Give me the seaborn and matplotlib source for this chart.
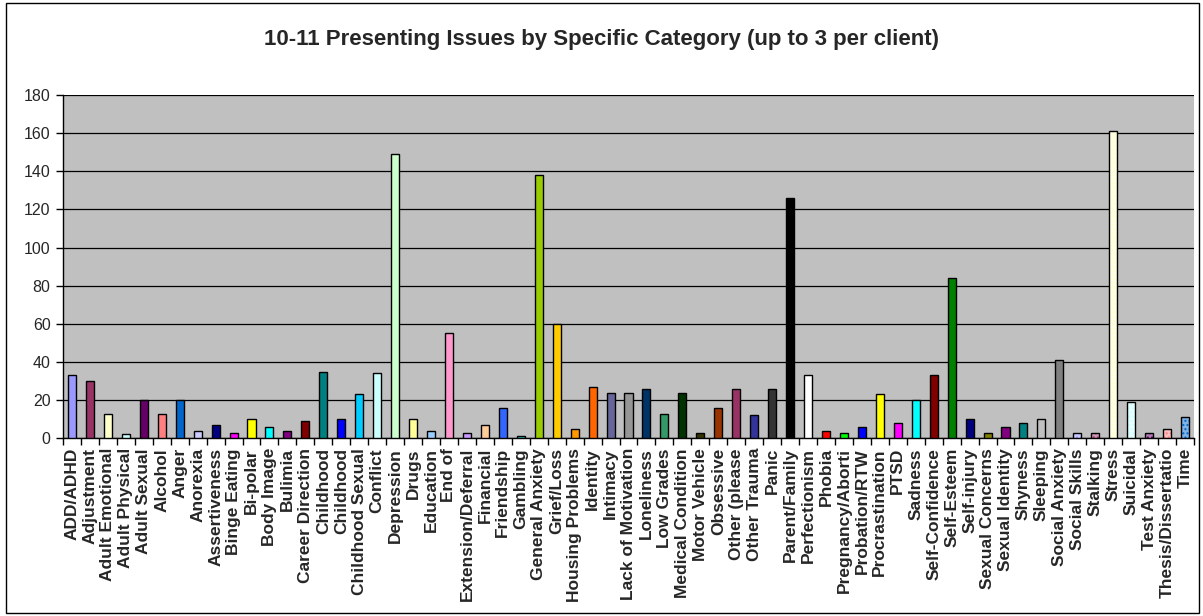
import matplotlib
matplotlib.use("Agg")
import matplotlib.pyplot as plt
from matplotlib.colors import to_rgba
from matplotlib.patches import Rectangle
import numpy as np
import pandas as pd
import seaborn as sns

title = "10-11 Presenting Issues by Specific Category (up to 3 per client)"

categories = [
    "ADD/ADHD", "Adjustment", "Adult Emotional", "Adult Physical", "Adult Sexual",
    "Alcohol", "Anger", "Anorexia", "Assertiveness", "Binge Eating", "Bi-polar",
    "Body Image", "Bulimia", "Career Direction", "Childhood", "Childhood",
    "Childhood Sexual", "Conflict", "Depression", "Drugs", "Education", "End of",
    "Extension/Deferral", "Financial", "Friendship", "Gambling", "General Anxiety",
    "Grief/Loss", "Housing Problems", "Identity", "Intimacy", "Lack of Motivation",
    "Loneliness", "Low Grades", "Medical Condition", "Motor Vehicle", "Obsessive",
    "Other (please", "Other Trauma", "Panic", "Parent/Family", "Perfectionism",
    "Phobia", "Pregnancy/Aborti", "Probation/RTW", "Procrastination", "PTSD",
    "Sadness", "Self-Confidence", "Self-Esteem", "Self-injury", "Sexual Concerns",
    "Sexual Identity", "Shyness", "Sleeping", "Social Anxiety", "Social Skills",
    "Stalking", "Stress", "Suicidal", "Test Anxiety", "Thesis/Dissertatio", "Time",
]

counts = [
    33, 30, 13, 2, 20, 13, 20, 4, 7, 3, 10,
    6, 4, 9, 35, 10, 23, 34, 149, 10, 4, 55,
    3, 7, 16, 1, 138, 60, 5, 27, 24, 24,
    26, 13, 24, 3, 16, 26, 12, 26, 126, 33,
    4, 3, 6, 23, 8, 20, 33, 84, 10, 3,
    6, 8, 10, 41, 3, 3, 161, 19, 3, 5, 11,
]

bar_colors = [
    "#9999FF", "#993366", "#FFFFCC", "#CCFFFF", "#660066", "#FF8080", "#0066CC", "#CCCCFF",
    "#000080", "#FF00FF", "#FFFF00", "#00FFFF", "#800080", "#800000", "#008080", "#0000FF",
    "#00CCFF", "#CCFFFF", "#CCFFCC", "#FFFF99", "#99CCFF", "#FF99CC", "#CC99FF", "#FFCC99",
    "#3366FF", "#33CCCC", "#99CC00", "#FFCC00", "#FF9900", "#FF6600", "#666699", "#969696",
    "#003366", "#339966", "#003300", "#333300", "#993300", "#993366", "#333399", "#333333",
    "#000000", "#FFFFFF", "#FF0000", "#00FF00", "#0000FF", "#FFFF00", "#FF00FF", "#00FFFF",
    "#800000", "#008000", "#000080", "#808000", "#800080", "#008080", "#C0C0C0", "#808080",
    "#9999FF", "#993366", "#FFFFCC", "#CCFFFF", "#660066", "#FF8080", "#0066CC",
]

# the last seven fills wrap round the palette and are drawn with a dotted pattern
dotted = [False] * 56 + [True] * 7

sns.set_theme(style="white")
plt.rcParams["font.family"] = ["Liberation Sans", "DejaVu Sans"]
plt.rcParams["hatch.linewidth"] = 1.0

keys = [f"{i:02d}|{name}" for i, name in enumerate(categories)]
df = pd.DataFrame({"key": keys, "count": counts})
palette = dict(zip(keys, bar_colors))

W, H = 1203, 616
fig = plt.figure(figsize=(W / 100, H / 100), dpi=100)
ax = fig.add_axes([63 / W, (H - 438.3) / H, (1194 - 63) / W, (438.3 - 95) / H])

sns.barplot(
    data=df, x="key", y="count", hue="key", palette=palette, order=keys,
    hue_order=keys, width=0.45, saturation=1, edgecolor="black", linewidth=1,
    legend=False, ax=ax, zorder=3,
)

for patch, base, pat in zip(ax.patches, bar_colors, dotted):
    if pat:
        r, g, b, _ = to_rgba(base)
        patch.set_facecolor((0.5 + r / 2, 0.5 + g / 2, 0.5 + b / 2))
        patch.set_hatch("....")
        patch._hatch_color = to_rgba(base)

ax.set_facecolor("#C0C0C0")
ax.set_xlim(-0.5, len(categories) - 0.5)
ax.set_ylim(0, 180)
ax.set_yticks(np.arange(0, 181, 20))
ax.yaxis.grid(True, color="black", linewidth=0.9)
ax.xaxis.grid(False)
ax.set_axisbelow(True)

ax.set_xticks(np.arange(len(categories)))
ax.set_xticklabels(categories, rotation=90, fontweight="bold", fontsize=12.5)
ax.set_xticks(np.arange(-0.5, len(categories), 1), minor=True)
ax.tick_params(axis="x", which="major", length=0, pad=7)
ax.tick_params(axis="x", which="minor", length=5, width=1, color="black",
               direction="out", bottom=True)
ax.tick_params(axis="y", which="major", length=5, width=1, color="black",
               direction="out", left=True, labelsize=11.5, pad=4)
for lbl in ax.get_xticklabels():
    lbl.set_verticalalignment("top")

ax.set_xlabel("")
ax.set_ylabel("")
for side in ("top", "right"):
    ax.spines[side].set_visible(False)
for side in ("left", "bottom"):
    ax.spines[side].set_color("black")
    ax.spines[side].set_linewidth(1)

fig.text(0.5, 1 - 40 / H, title, ha="center", va="center",
         fontweight="bold", fontsize=16)

fig.patches.append(Rectangle((6 / W, 3 / H), (W - 10) / W, (H - 6) / H,
                             transform=fig.transFigure, fill=False,
                             edgecolor="black", linewidth=1))

fig.savefig("out.png", dpi=100)
